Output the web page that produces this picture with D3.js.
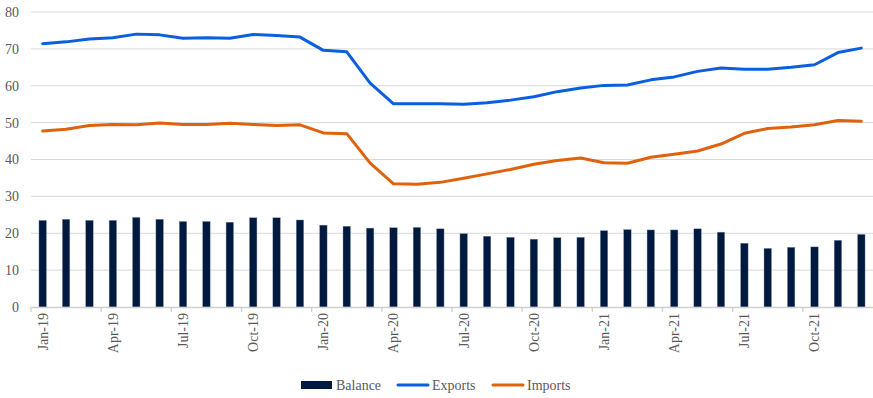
<!DOCTYPE html>
<html>
<head>
<meta charset="utf-8">
<script src="https://cdn.jsdelivr.net/npm/d3@7"></script>
<style>
  html, body { margin: 0; padding: 0; background: #ffffff; }
  svg { display: block; font-family: "Liberation Serif", "Times New Roman", serif; }
</style>
</head>
<body>
<svg id="chart" width="873" height="398"></svg>
<script>
// Monthly trade figures, Jan-2019 to Dec-2021
const months = [
  "Jan-19","Feb-19","Mar-19","Apr-19","May-19","Jun-19","Jul-19","Aug-19","Sep-19","Oct-19","Nov-19","Dec-19",
  "Jan-20","Feb-20","Mar-20","Apr-20","May-20","Jun-20","Jul-20","Aug-20","Sep-20","Oct-20","Nov-20","Dec-20",
  "Jan-21","Feb-21","Mar-21","Apr-21","May-21","Jun-21","Jul-21","Aug-21","Sep-21","Oct-21","Nov-21","Dec-21"
];
const balance = [
  23.5, 23.8, 23.5, 23.5, 24.3, 23.8, 23.2, 23.2, 23.0, 24.2, 24.2, 23.6,
  22.2, 21.9, 21.4, 21.5, 21.6, 21.2, 19.9, 19.2, 18.9, 18.4, 18.8, 18.9,
  20.7, 21.0, 20.9, 20.9, 21.2, 20.3, 17.3, 15.9, 16.2, 16.3, 18.1, 19.7
];
const exportsSeries = [
  71.4, 71.9, 72.7, 73.0, 74.0, 73.8, 72.9, 73.0, 72.9, 73.9, 73.6, 73.2,
  69.6, 69.2, 60.7, 55.1, 55.1, 55.1, 55.0, 55.4, 56.1, 57.0, 58.4, 59.4,
  60.1, 60.2, 61.6, 62.4, 63.9, 64.8, 64.5, 64.5, 65.0, 65.7, 69.0, 70.2
];
const importsSeries = [
  47.7, 48.2, 49.2, 49.5, 49.4, 49.9, 49.5, 49.5, 49.8, 49.5, 49.2, 49.4,
  47.2, 47.0, 39.0, 33.4, 33.3, 33.8, 34.9, 36.1, 37.3, 38.7, 39.7, 40.4,
  39.1, 39.0, 40.6, 41.4, 42.3, 44.2, 47.1, 48.4, 48.8, 49.4, 50.6, 50.4
];
const yTicks = [0, 10, 20, 30, 40, 50, 60, 70, 80];
const seriesNames = ["Balance", "Exports", "Imports"];

const colors = { Balance: "#001a3f", Exports: "#0a5fe0", Imports: "#e0620d" };
const textColor = "#595959";

const svg = d3.select("#chart");
const plotLeft = 31, plotRight = 873, plotTop = 12, plotBottom = 307;

const x = d3.scaleBand().domain(months).range([plotLeft, plotRight]).padding(0);
const y = d3.scaleLinear().domain([0, 80]).range([plotBottom, plotTop]);

// Horizontal gridlines
svg.append("g")
  .selectAll("line")
  .data(yTicks.filter(d => d > 0))
  .join("line")
  .attr("x1", plotLeft).attr("x2", plotRight)
  .attr("y1", d => y(d)).attr("y2", d => y(d))
  .attr("stroke", "#d9d9d9").attr("stroke-width", 1);

// Y axis labels
const yAxis = d3.axisLeft(y).tickValues(yTicks).tickSize(0).tickPadding(12);
const yg = svg.append("g").attr("transform", `translate(${plotLeft},0)`).call(yAxis);
yg.select(".domain").remove();
yg.selectAll("text")
  .attr("fill", textColor)
  .style("font-size", "14px")
  .style("font-family", "'Liberation Serif', 'Times New Roman', serif");

// Balance bars
const barW = x.bandwidth() * 0.32;
svg.append("g")
  .selectAll("rect")
  .data(months.map((m, i) => ({ m, v: balance[i] })))
  .join("rect")
  .attr("x", d => x(d.m) + x.bandwidth() / 2 - barW / 2)
  .attr("width", barW)
  .attr("y", d => y(d.v))
  .attr("height", d => y(0) - y(d.v))
  .attr("fill", colors.Balance)
  .attr("stroke", "#8a99b3")
  .attr("stroke-width", 0.4);

// X axis baseline, labels and tick marks
const quarterly = months.filter((m, i) => i % 3 === 0);
const xAxis = d3.axisBottom(x).tickValues(quarterly).tickSize(0).tickSizeOuter(0);
const xg = svg.append("g").attr("transform", `translate(0,${plotBottom})`).call(xAxis);
xg.select(".domain").attr("stroke", "#d0d0d0").attr("stroke-width", 1.3);
xg.selectAll("text")
  .attr("fill", textColor)
  .style("font-size", "14px")
  .style("font-family", "'Liberation Serif', 'Times New Roman', serif")
  .attr("text-anchor", "end")
  .attr("transform", "rotate(-90)")
  .attr("x", -6)
  .attr("y", 0)
  .attr("dy", "0.35em");

svg.append("g")
  .selectAll("line")
  .data(quarterly)
  .join("line")
  .attr("x1", d => x(d)).attr("x2", d => x(d))
  .attr("y1", plotBottom).attr("y2", plotBottom + 5)
  .attr("stroke", "#d0d0d0").attr("stroke-width", 1.3);

// Export and import lines
const line = d3.line()
  .x((d, i) => x(months[i]) + x.bandwidth() / 2)
  .y(d => y(d));

svg.append("path")
  .datum(importsSeries)
  .attr("d", line)
  .attr("fill", "none")
  .attr("stroke", colors.Imports)
  .attr("stroke-width", 3)
  .attr("stroke-linejoin", "round")
  .attr("stroke-linecap", "round");

svg.append("path")
  .datum(exportsSeries)
  .attr("d", line)
  .attr("fill", "none")
  .attr("stroke", colors.Exports)
  .attr("stroke-width", 3)
  .attr("stroke-linejoin", "round")
  .attr("stroke-linecap", "round");

// Legend
const legendY = 385;
const legendItems = [
  { name: seriesNames[0], x: 301, type: "bar" },
  { name: seriesNames[1], x: 397, type: "line" },
  { name: seriesNames[2], x: 492, type: "line" }
];
const lg = svg.append("g");
legendItems.forEach(item => {
  if (item.type === "bar") {
    lg.append("rect")
      .attr("x", item.x).attr("y", legendY - 4)
      .attr("width", 31).attr("height", 8)
      .attr("fill", colors[item.name]);
  } else {
    lg.append("line")
      .attr("x1", item.x + 1).attr("x2", item.x + 31)
      .attr("y1", legendY).attr("y2", legendY)
      .attr("stroke", colors[item.name])
      .attr("stroke-width", 3)
      .attr("stroke-linecap", "round");
  }
  lg.append("text")
    .attr("x", item.x + 35)
    .attr("y", legendY)
    .attr("dy", "0.35em")
    .attr("fill", textColor)
    .style("font-size", "14px")
    .text(item.name);
});
</script>
</body>
</html>
